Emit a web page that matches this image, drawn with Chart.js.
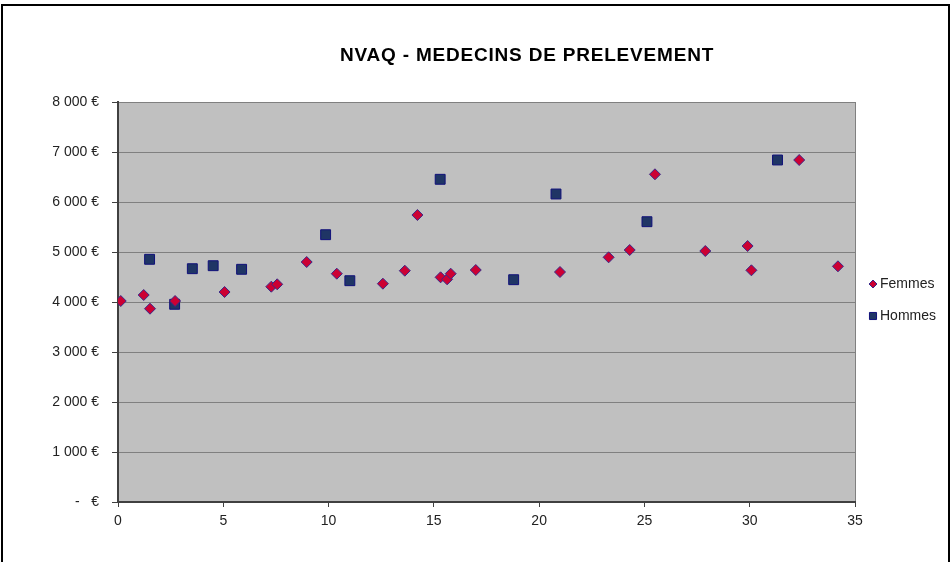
<!DOCTYPE html>
<html>
<head>
<meta charset="utf-8">
<script src="https://cdn.jsdelivr.net/npm/chart.js@4/dist/chart.umd.min.js"></script>
<style>
  html, body { margin: 0; padding: 0; background: #fff; }
  #wrap { width: 952px; height: 562px; position: relative; }
</style>
</head>
<body>
<div id="wrap"><canvas id="chart" width="952" height="562"></canvas></div>
<script>
// data: x = years?, y = amount in euros
const femmesX = [0.13, 1.22, 1.52, 2.71, 5.06, 7.28, 7.56, 8.96, 10.39, 12.58, 13.62, 14.22, 15.32, 15.63, 15.80, 16.99, 20.99, 23.30, 24.30, 25.50, 27.89, 29.90, 30.08, 32.35, 34.19];
const femmesY = [4020, 4140, 3866, 4020, 4200, 4306, 4354, 4800, 4566, 4366, 4626, 5740, 4494, 4454, 4566, 4640, 4600, 4894, 5040, 6554, 5020, 5120, 4634, 6840, 4714];

const hommesX = [1.50, 2.69, 3.53, 4.52, 5.87, 9.86, 11.01, 15.30, 18.79, 20.80, 25.12, 31.32];
const hommesY = [4854, 3954, 4666, 4726, 4654, 5346, 4426, 6454, 4446, 6160, 5606, 6840];

const seriesNames = ["Femmes", "Hommes"];
const chartTitle = "NVAQ - MEDECINS DE PRELEVEMENT";
const xTicks = [0, 5, 10, 15, 20, 25, 30, 35];
const yTicks = [0, 1000, 2000, 3000, 4000, 5000, 6000, 7000, 8000];

const toPoints = (xs, ys) => xs.map((x, i) => ({ x: x, y: ys[i] }));

const fontFamily = "'Liberation Sans', Arial, sans-serif";

function euro(v) {
  if (v === 0) return "-   €";
  return String(v).replace(/\B(?=(\d{3})+(?!\d))/g, " ") + " €";
}

// background of plot area + outer frame + title + legend
const decor = {
  id: "decor",
  beforeDraw(chart) {
    const { ctx, chartArea: a } = chart;
    ctx.save();
    ctx.fillStyle = "#fff";
    ctx.fillRect(0, 0, chart.width, chart.height);
    ctx.strokeStyle = "#000";
    ctx.lineWidth = 2;
    ctx.strokeRect(2, 5, 947, 600);
    ctx.fillStyle = "#c0c0c0";
    ctx.fillRect(a.left, a.top, a.right - a.left, a.bottom - a.top);
    ctx.strokeStyle = "#808080";
    ctx.lineWidth = 1;
    ctx.strokeRect(a.left + 0.5, a.top + 0.5, a.right - a.left, a.bottom - a.top);
    ctx.restore();
  },
  afterDraw(chart) {
    const { ctx } = chart;
    ctx.save();
    ctx.fillStyle = "#000";
    ctx.font = "bold 19px " + fontFamily;
    ctx.letterSpacing = "0.8px";
    ctx.textAlign = "center";
    ctx.textBaseline = "middle";
    ctx.fillText(chartTitle, 527, 56);
    ctx.letterSpacing = "0px";

    ctx.font = "14px " + fontFamily;
    ctx.textAlign = "left";
    chart.data.datasets.forEach((ds, i) => {
      const y = 284 + i * 32;
      ctx.fillStyle = ds.backgroundColor;
      ctx.strokeStyle = ds.borderColor;
      Chart.helpers.drawPoint(ctx, {
        pointStyle: ds.pointStyle,
        radius: ds.pointStyle === "rect" ? 5 : 4,
        borderWidth: 1
      }, 873, y);
      ctx.fillStyle = "#222";
      ctx.fillText(ds.label, 880, y);
    });
    ctx.restore();
  }
};

new Chart(document.getElementById("chart"), {
  type: "scatter",
  data: {
    datasets: [
      {
        label: seriesNames[0],
        data: toPoints(femmesX, femmesY),
        pointStyle: "rectRot",
        pointRadius: 5.5,
        pointHoverRadius: 5.5,
        backgroundColor: "#cc0033",
        borderColor: "#3a2a8a",
        borderWidth: 1
      },
      {
        label: seriesNames[1],
        data: toPoints(hommesX, hommesY),
        pointStyle: "rect",
        pointRadius: 7,
        pointHoverRadius: 7,
        backgroundColor: "#1f3565",
        borderColor: "#10107a",
        borderWidth: 1
      }
    ]
  },
  options: {
    responsive: false,
    animation: false,
    events: [],
    layout: { padding: { left: 0, right: 97, top: 102, bottom: 0 } },
    plugins: {
      legend: { display: false },
      title: { display: false },
      tooltip: { enabled: false }
    },
    scales: {
      x: {
        type: "linear",
        min: 0,
        max: 35,
        afterBuildTicks: (s) => { s.ticks = xTicks.map(v => ({ value: v })); },
        afterFit: (s) => { s.height = 60; },
        grid: { drawOnChartArea: false, drawTicks: true, tickLength: 5, color: "#404040" },
        border: { color: "#404040", width: 2 },
        ticks: { color: "#222", font: { family: fontFamily, size: 14 }, padding: 6 }
      },
      y: {
        type: "linear",
        min: 0,
        max: 8000,
        afterBuildTicks: (s) => { s.ticks = yTicks.map(v => ({ value: v })); },
        afterFit: (s) => { s.width = 118; },
        grid: { color: "#808080", tickLength: 6, tickColor: "#404040" },
        border: { color: "#404040", width: 2 },
        ticks: {
          color: "#222",
          font: { family: fontFamily, size: 14 },
          padding: 13,
          callback: (v) => euro(v)
        }
      }
    }
  },
  plugins: [decor]
});
</script>
</body>
</html>
